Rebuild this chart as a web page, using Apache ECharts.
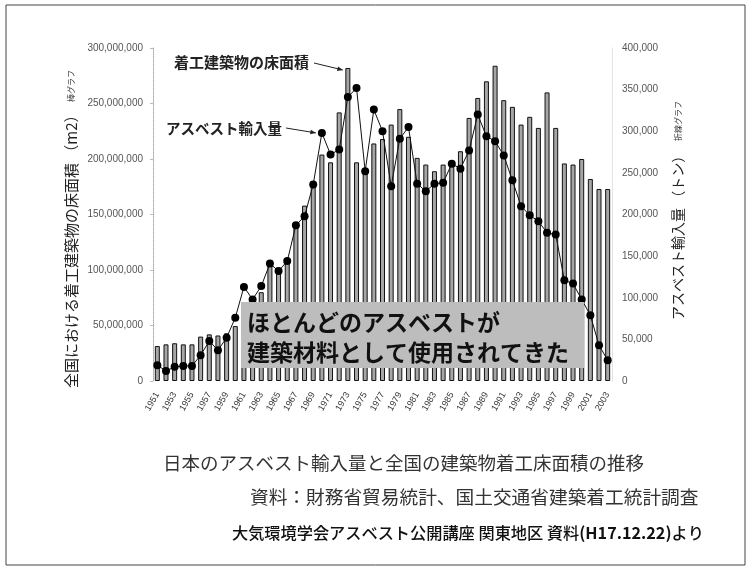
<!DOCTYPE html>
<html>
<head>
<meta charset="utf-8">
<script src="https://cdn.jsdelivr.net/npm/echarts@6/dist/echarts.min.js"></script>
<style>
    html,body{margin:0;padding:0;background:#fff;}
    #main{width:752px;height:570px;}
</style>
</head>
<body>
<div id="main"></div>
<script>
    // 年
    let years = ["1951","1952","1953","1954","1955","1956","1957","1958","1959","1960",
        "1961","1962","1963","1964","1965","1966","1967","1968","1969","1970",
        "1971","1972","1973","1974","1975","1976","1977","1978","1979","1980",
        "1981","1982","1983","1984","1985","1986","1987","1988","1989","1990",
        "1991","1992","1993","1994","1995","1996","1997","1998","1999","2000",
        "2001","2002","2003"];
    // 着工建築物の床面積（百万m2）棒グラフ
    let floorArea = [31.5,33,34,33,33,40,42,41,43,49.5,
        68,74,80,104,100,110,140,158,175,204,
        197,242,282,197,188,214,218,231,245,220,
        201,195,189,195,196,207,237,255,270,284,
        253,247,231,238,228,260,228,196,195,200,
        182,173,173];
    // アスベスト輸入量（トン）折線グラフ
    let asbestos = [19000,12000,17000,18000,18000,31000,48000,37000,52000,76000,
        113000,98000,114000,141000,132000,144000,187000,198000,236000,298000,
        272000,278000,341000,352000,252000,326000,300000,234000,291000,305000,
        237000,228000,237000,238000,261000,255000,277000,320000,294000,288000,
        271000,241000,210000,199000,192000,178000,176000,121000,117000,98000,
        79000,43000,25000];

    let jp = '"Noto Sans CJK JP", sans-serif';
    let num = '"Liberation Sans", Arial, sans-serif';

    let myChart = echarts.init(document.getElementById('main'));
    let option = {
        animation:false,
        backgroundColor:'#fff',
        grid:{left:153,right:140,top:48,bottom:189},
        xAxis:{
            type:'category',
            data:years,
            axisLine:{show:false},
            axisTick:{show:false},
            axisLabel:{
                interval:1,
                rotate:60,
                margin:12,
                fontSize:9,
                color:'#333',
                fontFamily:num
            }
        },
        yAxis:[{
            type:'value',
            min:0,
            max:300,
            interval:50,
            splitLine:{show:false},
            axisLine:{show:true,lineStyle:{color:'#aaa',type:'dotted'}},
            axisTick:{show:true,length:3,lineStyle:{color:'#bbb'}},
            axisLabel:{
                margin:10,
                fontSize:10,
                color:'#555',
                fontFamily:num,
                formatter:function (v) {
                    return v === 0 ? '0' : v + ',000,000';
                }
            }
        },{
            type:'value',
            min:0,
            max:400000,
            interval:50000,
            splitLine:{show:false},
            axisLine:{show:true,lineStyle:{color:'#ddd',type:'dotted'}},
            axisTick:{show:false},
            axisLabel:{
                margin:10,
                fontSize:10,
                color:'#555',
                fontFamily:num,
                formatter:function (v) {
                    return v.toLocaleString('en-US');
                }
            }
        }],
        series:[{
            name:'床面積',
            type:'bar',
            data:floorArea,
            barWidth:5,
            itemStyle:{color:'#a6a6a6',borderColor:'#111',borderWidth:1}
        },{
            name:'アスベスト輸入量',
            type:'line',
            yAxisIndex:1,
            data:asbestos,
            symbol:'circle',
            symbolSize:8,
            showAllSymbol:true,
            lineStyle:{color:'#111',width:1},
            itemStyle:{color:'#000'},
            z:5
        }]
    };
    myChart.setOption(option);

    // 矢印
    function arrow(id, x1, y1, x2, y2) {
        let a = Math.atan2(y2 - y1, x2 - x1);
        let s = 6;
        return [{
            type:'line', id:id + 'l', z:50,
            shape:{x1:x1, y1:y1, x2:x2, y2:y2},
            style:{stroke:'#222', lineWidth:1}
        },{
            type:'polygon', id:id + 'h', z:50,
            shape:{points:[[x2, y2],
                [x2 - s*Math.cos(a - 0.4), y2 - s*Math.sin(a - 0.4)],
                [x2 - s*Math.cos(a + 0.4), y2 - s*Math.sin(a + 0.4)]]},
            style:{fill:'#222'}
        }];
    }

    let pBar = myChart.convertToPixel({xAxisIndex:0,yAxisIndex:0}, ['1973', 282]);
    let pDot = myChart.convertToPixel({xAxisIndex:0,yAxisIndex:1}, ['1970', 298000]);

    let g = [
        {type:'rect', z:0, shape:{x:6,y:5,width:739,height:560},
            style:{fill:'none',stroke:'#444',lineWidth:1}},
        // 注記
        {type:'text', z:50, x:174, y:62,
            style:{text:'着工建築物の床面積', font:'bold 15px ' + jp, fill:'#222', textVerticalAlign:'middle'}},
        {type:'text', z:50, x:166, y:128,
            style:{text:'アスベスト輸入量', font:'bold 14.5px ' + jp, fill:'#222', textVerticalAlign:'middle'}},
        // 灰色の箱
        {type:'rect', z:60, shape:{x:241,y:302,width:343,height:66},
            style:{fill:'#bdbdbd'}},
        {type:'text', z:61, x:247, y:322,
            style:{text:'ほとんどのアスベストが', font:'bold 23px ' + jp, fill:'#111', textVerticalAlign:'middle'}},
        {type:'text', z:61, x:247, y:352,
            style:{text:'建築材料として使用されてきた', font:'bold 23px ' + jp, fill:'#111', textVerticalAlign:'middle'}},
        // 軸の名前
        {type:'text', z:50, x:71, y:388, rotation:Math.PI/2,
            style:{text:'全国における着工建築物の床面積 （m2）', font:'15px ' + jp, fill:'#222', textVerticalAlign:'middle'}},
        {type:'text', z:50, x:71, y:102, rotation:Math.PI/2,
            style:{text:'棒グラフ', font:'8px ' + jp, fill:'#333', textVerticalAlign:'middle'}},
        {type:'text', z:50, x:678, y:320, rotation:Math.PI/2,
            style:{text:'アスベスト輸入量 （トン）', font:'14px ' + jp, fill:'#222', textVerticalAlign:'middle'}},
        {type:'text', z:50, x:678, y:141, rotation:Math.PI/2,
            style:{text:'折線グラフ', font:'8px ' + jp, fill:'#333', textVerticalAlign:'middle'}},
        // 下の文字
        {type:'text', z:50, x:163, y:463,
            style:{text:'日本のアスベスト輸入量と全国の建築物着工床面積の推移', font:'18.5px ' + jp, fill:'#333', textVerticalAlign:'middle'}},
        {type:'text', z:50, x:250, y:497,
            style:{text:'資料：財務省貿易統計、国土交通省建築着工統計調査', font:'18.7px ' + jp, fill:'#333', textVerticalAlign:'middle'}},
        {type:'text', z:50, x:232, y:533,
            style:{text:'大気環境学会アスベスト公開講座 関東地区 資料{b|(H17.12.22)}より',
                font:'500 16.2px ' + jp, fill:'#111', textVerticalAlign:'middle',
                rich:{b:{fontWeight:'bold', fontSize:16.2, fontFamily:jp, fill:'#111'}}}}
    ];
    g = g.concat(arrow('a1', 314, 63, pBar[0] - 5, pBar[1] + 2));
    g = g.concat(arrow('a2', 286, 128, pDot[0] - 6, pDot[1]));
    myChart.setOption({graphic:g});
</script>
</body>
</html>
